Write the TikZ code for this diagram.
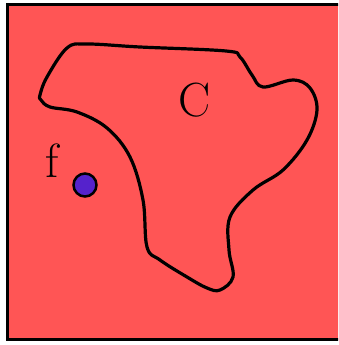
\documentclass[tikz,border=0pt]{standalone}
\begin{document}
\begin{tikzpicture}[x=1pt,y=-1pt,
  frame/.style={draw=black,line width=3pt,fill=bgred},
  blob/.style={draw=black,line width=3.2pt,line join=round},
  dot/.style={circle,draw=black,line width=2.5pt,fill=dotpurple,minimum size=23pt,inner sep=0pt},
  lbl/.style={font=\fontsize{48}{48}\selectfont,inner sep=0pt}]
\definecolor{bgred}{HTML}{FF5555}
\definecolor{dotpurple}{HTML}{5522CC}
\clip (0,0) rectangle (338,345);
\draw[frame] (7.5,4.5) rectangle (360,339.5);
\draw[blob] plot[smooth cycle,tension=0.6] coordinates {
 (40,95) (47,77) (67,48) (87,44) (140,47) (226,51) (240,57) (252,75) (263,87)
 (293,80) (310,88) (317,110) (307,140) (283,170) (253,190) (230,217)
 (229,250) (233,277) (220,290) (207,288) (187,277) (160,260) (147,247)
 (143,200) (130,157) (107,128) (77,112) (50,107) (41,100)};
\node[dot] (f) at (85,185) {};
\node[lbl] (flabel) at (52,161) {f};
\node[lbl] (C) at (195,100) {C};
\end{tikzpicture}
\end{document}
